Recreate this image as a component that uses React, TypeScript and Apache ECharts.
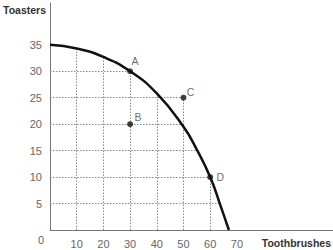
import React, { useEffect, useRef } from "react";
import * as echarts from "echarts";

const frontierX = [0, 10, 20, 30, 40, 50, 55, 60, 63.6, 67];
const frontierY = [35, 34.3, 32.7, 30, 25.8, 19.5, 15.2, 10, 5, 0];

const pointNames = ["A", "B", "C", "D"];
const pointX = [30, 30, 50, 60];
const pointY = [30, 20, 25, 10];
const labelOffsets = [[5, -10], [8, -7], [7, -6], [10, 0]];

const hGridY = [5, 10, 15, 20, 25, 30];
const hGridEndX = [63.6, 60, 55, 50, 50, 30];
const vGridX = [10, 20, 30, 40, 50, 60];
const vGridEndY = [34.3, 32.7, 30, 25.8, 25, 10];

const xTicks = [10, 20, 30, 40, 50, 60, 70];
const yTicks = [5, 10, 15, 20, 25, 30, 35];

export default function App() {
  const ref = useRef<HTMLDivElement>(null);
  useEffect(() => {
    if (!ref.current) return;
    const chart = echarts.init(ref.current, null, { renderer: "svg" });
    const font = "Liberation Sans, Arial, sans-serif";
    const gridLines = [
      ...hGridY.map((y, i) => ({ coords: [[0, y], [hGridEndX[i], y]] })),
      ...vGridX.map((x, i) => ({ coords: [[x, 0], [x, vGridEndY[i]]] })),
    ];
    chart.setOption({
      animation: false,
      grid: { left: 50, right: 0, top: 3, bottom: 20 },
      xAxis: {
        type: "value",
        min: 0,
        max: 106,
        interval: 10,
        splitLine: { show: false },
        axisTick: { show: false },
        axisLine: { lineStyle: { color: "#777", width: 1 } },
        axisLabel: {
          color: "#666",
          fontSize: 11,
          fontFamily: font,
          margin: 8,
          showMaxLabel: false,
          formatter: (v: number) => (xTicks.includes(v) ? String(v) : ""),
        },
      },
      yAxis: {
        type: "value",
        min: 0,
        max: 42.9,
        interval: 5,
        splitLine: { show: false },
        axisTick: { show: false },
        axisLine: { lineStyle: { color: "#777", width: 1 } },
        axisLabel: {
          color: "#666",
          fontSize: 11,
          fontFamily: font,
          margin: 8,
          showMaxLabel: false,
          formatter: (v: number) => (yTicks.includes(v) ? String(v) : ""),
        },
      },
      graphic: [
        { type: "text", left: 3, top: 4, style: { text: "Toasters", fontSize: 10.5, fontWeight: "bold", fill: "#333", fontFamily: font } },
        { type: "text", right: 2, top: 237, style: { text: "Toothbrushes", fontSize: 10.5, fontWeight: "bold", fill: "#333", fontFamily: font } },
        { type: "text", left: 38, top: 234, style: { text: "0", fontSize: 11, fill: "#666", fontFamily: font } },
      ],
      series: [
        {
          type: "lines",
          coordinateSystem: "cartesian2d",
          silent: true,
          lineStyle: { color: "#888", width: 1, type: [1.5, 1.5], opacity: 1 },
          data: gridLines,
          z: 1,
        },
        {
          type: "line",
          data: frontierX.map((x, i) => [x, frontierY[i]]),
          smooth: 0.5,
          showSymbol: false,
          lineStyle: { color: "#111", width: 2.5 },
          z: 3,
        },
        {
          type: "scatter",
          data: pointX.map((x, i) => ({
            value: [x, pointY[i]],
            name: pointNames[i],
            label: {
              show: true,
              formatter: pointNames[i],
              position: "inside",
              offset: labelOffsets[i],
              color: "#444",
              fontSize: 10.5,
              fontFamily: font,
            },
          })),
          symbolSize: 6,
          itemStyle: { color: "#111" },
          z: 4,
        },
      ],
    });
    return () => chart.dispose();
  }, []);
  return <div ref={ref} style={{ width: 333, height: 250, position: "absolute", left: 0, top: 0 }} />;
}
